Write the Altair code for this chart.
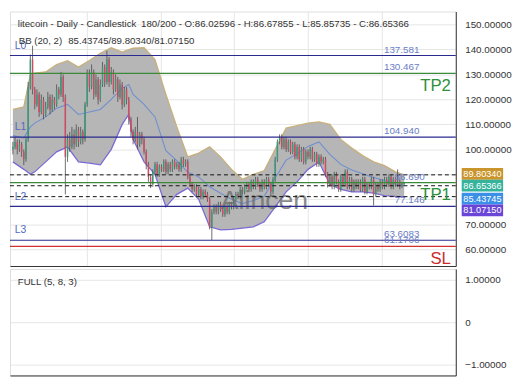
import altair as alt
import pandas as pd

# ---------------- data ----------------
opens = [100, 101, 103, 100, 102,
         99,
         96, 104, 125, 136,
         124, 118, 122, 115, 120, 114, 117,
         121, 116, 120, 118, 124, 122,
         129, 121, 97,
         104, 101, 106, 102, 108, 103, 107,
         104, 118,
         130, 125, 131, 122, 128, 120, 126, 133, 127,
         136, 127, 131, 124, 128, 121,
         126, 118, 124,
         120, 112, 107,
         104, 107, 102, 106,
         104, 99, 94, 89,
         86, 91, 94, 90, 93, 92, 95, 91, 94, 92, 95, 93, 94, 92, 96, 94,
         95, 89,
         86, 84, 85, 82, 84, 81, 83, 82,
         80, 69,
         75, 77, 75, 78, 76, 74, 77, 75, 78,
         77, 80, 82, 81, 84, 83,
         85, 86, 84, 87, 85, 88, 86, 84, 87, 85, 88, 86,
         83, 88, 96,
         103, 105, 101, 104, 100, 103, 99,
         102, 97, 101, 96, 100, 95, 99, 97, 100, 96, 98, 94, 97, 95,
         96, 90,
         86, 89, 85, 90, 87, 84, 89, 86, 91, 85, 88, 84, 87,
         85, 87, 84, 88, 83, 86,
         85, 88, 82, 86, 84, 87, 85, 88, 86, 89, 85, 88, 86, 87, 85, 86.02596]
closes = [101, 103, 100, 102, 99,
          96,
          104, 125, 136, 124,
          118, 122, 115, 120, 114, 117, 121,
          116, 120, 118, 124, 122, 129,
          121, 97, 104,
          101, 106, 102, 108, 103, 107, 104,
          118, 130,
          125, 131, 122, 128, 120, 126, 133, 127, 136,
          127, 131, 124, 128, 121, 126,
          118, 124, 120,
          112, 107, 104,
          107, 102, 106, 104,
          99, 94, 89, 86,
          91, 94, 90, 93, 92, 95, 91, 94, 92, 95, 93, 94, 92, 96, 94, 95,
          89, 86,
          84, 85, 82, 84, 81, 83, 82, 80,
          69, 75,
          77, 75, 78, 76, 74, 77, 75, 78, 77,
          80, 82, 81, 84, 83, 85,
          86, 84, 87, 85, 88, 86, 84, 87, 85, 88, 86, 83,
          88, 96, 103,
          105, 101, 104, 100, 103, 99, 102,
          97, 101, 96, 100, 95, 99, 97, 100, 96, 98, 94, 97, 95, 96,
          90, 86,
          89, 85, 90, 87, 84, 89, 86, 91, 85, 88, 84, 87, 85,
          87, 84, 88, 83, 86, 85,
          88, 82, 86, 84, 87, 85, 88, 86, 89, 85, 88, 86, 87, 85, 86.02596, 86.65366]
highs = [103, 105, 104, 104, 103,
         100,
         105, 127, 138, 141.5,
         125, 124, 123, 122, 121, 119, 123,
         122, 122, 121, 126, 125, 131,
         130, 122, 106,
         107, 109, 108, 110, 109, 109, 108,
         119, 132,
         132, 134, 132, 130, 129, 128, 135, 134, 139.5,
         137, 133, 132, 130, 129, 128,
         127, 125, 125,
         121, 113, 108,
         109, 113, 107, 107,
         105, 100, 95, 90,
         92, 95, 95, 94, 94, 96, 96, 95, 95, 96, 96, 95, 95, 97, 97, 96,
         96, 90,
         87, 86, 86, 85, 85, 84, 84, 83,
         81, 76,
         78, 78, 79, 79, 77, 78, 78, 79, 79,
         81, 83, 83, 85, 85, 86,
         87, 87, 88, 88, 89, 89, 87, 88, 88, 89, 89, 87,
         89, 97, 104,
         106, 106, 105, 105, 104, 104, 103,
         103, 102, 102, 101, 101, 100, 100, 101, 101, 99, 99, 98, 98, 97,
         97, 91,
         90, 90, 91, 91, 88, 90, 90, 92, 92, 89, 89, 88, 88,
         88, 88, 89, 89, 87, 87,
         89, 89, 87, 87, 88, 88, 89, 89, 90, 90, 89, 89, 92, 88, 86.8, 86.67855]
lows = [98, 100, 98, 99, 97,
        93.7,
        95, 103, 124, 122,
        116, 117, 113, 114, 112, 113, 116,
        114, 115, 116, 117, 120, 121,
        119, 82, 95,
        99, 100, 100, 101, 101, 102, 102,
        103, 117,
        123, 124, 120, 121, 118, 119, 125, 125, 126,
        125, 126, 122, 123, 119, 120,
        116, 117, 118,
        110, 105, 102,
        103, 100, 101, 102,
        98, 92, 87, 84.5,
        85, 90, 89, 89, 91, 91, 90, 90, 91, 91, 92, 92, 91, 91, 93, 93,
        88, 85,
        83, 83, 81, 81, 80, 80, 81, 79,
        68, 63.7,
        74, 74, 74, 75, 73, 73, 74, 74, 76,
        76, 79, 80, 80, 82, 82,
        84, 83, 83, 84, 84, 85, 83, 83, 84, 84, 85, 81,
        82, 87, 95,
        102, 100, 100, 99, 99, 98, 98,
        96, 96, 95, 95, 94, 94, 96, 96, 95, 95, 93, 93, 94, 94,
        89, 84.7,
        85, 84, 84, 86, 83, 83, 85, 85, 84, 84, 83, 83, 84,
        84, 83, 83, 82, 82, 84,
        84, 77.5, 81, 83, 83, 84, 84, 85, 85, 84, 84, 85, 85, 84, 84.5, 85.85735]

assert len(opens) == len(closes) == len(highs) == len(lows) == 180, (
    len(opens), len(closes), len(highs), len(lows))

# Bollinger bands (20, 2) read at a subset of candles
bb_idx = [0, 5, 8, 10, 15, 20, 25, 30, 35, 40, 45, 50, 53, 55, 60, 65, 70, 75, 80,
          85, 90, 95, 100, 105, 110, 115, 120, 125, 130, 135, 140, 145, 150, 155,
          160, 165, 170, 175, 179]
bb_upper = [116, 117, 130, 130.5, 131, 134, 135.5, 133, 135.6, 138.5, 140.7, 139, 140,
            140.5, 140.7, 136, 122, 109, 97, 98.5, 101, 97, 92, 88, 90, 91.5, 100,
            108.5, 109.5, 110.5, 111, 110, 104, 100.5, 97.5, 95, 93.5, 91, 89.8034]
bb_mid = [105.5, 104.5, 109, 110.5, 113, 116.5, 118, 114, 115, 116, 120, 124.5, 126,
          122, 118, 113, 99.5, 95.5, 90.8, 89, 85, 82.4, 80, 78.3, 79.5, 81.3, 88.5,
          95.7, 98.2, 101.2, 103, 98, 94, 91.7, 90.2, 88.7, 87.5, 86.1, 85.43745]
bb_lower = [95, 92, 90, 91, 95, 99, 101, 95, 94.5, 93.8, 100, 110, 114, 104, 95, 90,
            77, 82, 84.5, 80, 69, 67.8, 68, 68.5, 69, 71, 77, 83, 87, 92, 95, 86, 84,
            83, 83, 82.5, 81.5, 81.2, 81.0715]
assert len(bb_idx) == len(bb_upper) == len(bb_mid) == len(bb_lower)

# Levels
navy_levels = [137.581, 104.940, 77.146, 63.6083]
navy_names = ["L0", "L1", "L2", "L3"]
tp_levels = [130.467]
sl_levels = [61.1706]
close_level = [86.65366]
bb_last = [89.80340, 85.43745, 81.07150]

value_label_prices = [137.581, 130.467, 104.940, 63.6083, 61.1706]
value_label_texts = ["137.581", "130.467", "104.940", "63.6083", "61.1706"]
value_label2_prices = [86.65366, 77.146]
value_label2_texts = ["86.690", "77.146"]

box_values = [89.80340, 86.65366, 85.43745, 81.07150]
box_texts = ["89.80340", "86.65366", "85.43745", "81.07150"]

y_ticks = [60, 70, 80, 90, 100, 110, 120, 130, 140, 150]
osc_ticks = [1, 0, -1]
grid_x = [33.8, 67.5, 101.3, 135, 168.8]

title1 = "litecoin - Daily - Candlestick"
title2 = "180/200 - O:86.02596 - H:86.67855 - L:85.85735 - C:86.65366"
bb_title = "BB (20, 2)"
bb_vals = "85.43745/89.80340/81.07150"
osc_title = "FULL (5, 8, 3)"

# ---------------- layout / style ----------------
W = 452
H_MAIN = 258
H_LOW = 108
REF_W = 459.0


def px(x):
    return x * W / REF_W


FONT = "Liberation Sans"
GREEN_C = "#3a9a7a"
RED_C = "#d04a62"
NAVY = "#2a2a8e"
LINE_GREEN = "#3a8a3a"
LINE_RED = "#d03030"
LABEL_BLUE = "#6a7ec6"

candles = pd.DataFrame({
    "i": list(range(len(opens))),
    "o": opens, "h": highs, "l": lows, "c": closes,
})
candles["dir"] = ["up" if c >= o else "down" for o, c in zip(opens, closes)]

bb = pd.DataFrame({"i": bb_idx, "upper": bb_upper, "mid": bb_mid, "lower": bb_lower})

xscale = alt.Scale(domain=[-1.33, 202.6], nice=False, zero=False)
yscale = alt.Scale(domain=[53.3, 155.2], nice=False, zero=False)
xaxis = alt.Axis(title=None, labels=False, ticks=False, domain=True,
                 domainColor="#333333", domainWidth=1, grid=True,
                 gridColor="#e6e6e6", values=grid_x)
yaxis = alt.Axis(title=None, orient="right", values=y_ticks, ticks=False,
                 labelPadding=9, domain=True, domainColor="#333333", domainWidth=1,
                 grid=True, gridColor="#e6e6e6", labelFont=FONT, labelFontSize=10,
                 labelColor="#333333",
                 labelExpr="(datum.value == 80 || datum.value == 90) ? '' : format(datum.value, '.5f')")


def X(f):
    return alt.X(f, type="quantitative", scale=xscale, axis=xaxis)


def Y(f):
    return alt.Y(f, type="quantitative", scale=yscale, axis=yaxis)


def one(text):
    return pd.DataFrame({"t": [text]})


layers = []

# Bollinger area and lines
layers.append(alt.Chart(bb).mark_area(color="#b6b6b6", opacity=1).encode(
    x=X("i"), y=Y("upper"), y2="lower"))
layers.append(alt.Chart(bb).mark_line(color="#c8b07a", strokeWidth=1.3).encode(
    x=X("i"), y=Y("upper")))
layers.append(alt.Chart(bb).mark_line(color="#7a6ad4", strokeWidth=1.3).encode(
    x=X("i"), y=Y("lower")))
layers.append(alt.Chart(bb).mark_line(color="#6f8fd0", strokeWidth=1.1).encode(
    x=X("i"), y=Y("mid")))

# Candles
layers.append(alt.Chart(candles).mark_rule(color="#4a4a4a", strokeWidth=0.8).encode(
    x=X("i"), y=Y("l"), y2="h"))
layers.append(alt.Chart(candles).mark_rule(strokeWidth=1.5).encode(
    x=X("i"), y=Y("o"), y2="c",
    color=alt.Color("dir:N", scale=alt.Scale(domain=["up", "down"], range=[GREEN_C, RED_C]),
                    legend=None)))

# Watermark
layers.append(alt.Chart(one("Alincen")).mark_text(
    align="center", baseline="middle", fontSize=27, font=FONT, color="#6e6e6e",
    opacity=0.8).encode(x=alt.value(px(262)), y=alt.value(192), text="t:N"))

# Level lines
layers.append(alt.Chart(pd.DataFrame({"v": navy_levels})).mark_rule(
    color=NAVY, strokeWidth=1.2).encode(y=Y("v")))
layers.append(alt.Chart(pd.DataFrame({"v": tp_levels})).mark_rule(
    color=LINE_GREEN, strokeWidth=1.2).encode(y=Y("v")))
layers.append(alt.Chart(pd.DataFrame({"v": close_level})).mark_rule(
    color=LINE_GREEN, strokeWidth=1.2).encode(y=Y("v")))
layers.append(alt.Chart(pd.DataFrame({"v": sl_levels})).mark_rule(
    color=LINE_RED, strokeWidth=1.2).encode(y=Y("v")))
layers.append(alt.Chart(pd.DataFrame({"v": bb_last})).mark_rule(
    color="#111111", strokeWidth=1, strokeDash=[4, 3]).encode(y=Y("v")))

# Level names L0..L3
layers.append(alt.Chart(pd.DataFrame({"v": navy_names and navy_levels, "t": navy_names})).mark_text(
    align="left", baseline="middle", dy=-10, fontSize=10.5, font=FONT, color="#5468c0").encode(
    x=alt.value(px(5)), y=Y("v"), text="t:N"))

# Level value labels
layers.append(alt.Chart(pd.DataFrame({"v": value_label_prices, "t": value_label_texts})).mark_text(
    align="left", baseline="middle", dy=-6, fontSize=10, font=FONT, color=LABEL_BLUE).encode(
    x=alt.value(px(385)), y=Y("v"), text="t:N"))
layers.append(alt.Chart(pd.DataFrame({"v": value_label2_prices, "t": value_label2_texts})).mark_text(
    align="left", baseline="middle", dy=-6, fontSize=10, font=FONT, color=LABEL_BLUE).encode(
    x=alt.value(px(396)), y=Y("v"), text="t:N"))

# TP / SL tags
layers.append(alt.Chart(one("TP2")).mark_text(
    align="right", baseline="middle", fontSize=17, font=FONT, color="#2f8f3a").encode(
    x=alt.value(px(454)), y=alt.value(76), text="t:N"))
layers.append(alt.Chart(one("TP1")).mark_text(
    align="right", baseline="middle", fontSize=17, font=FONT, color="#2f8f3a").encode(
    x=alt.value(px(454)), y=alt.value(186), text="t:N"))
layers.append(alt.Chart(one("SL")).mark_text(
    align="right", baseline="middle", fontSize=17, font=FONT, color="#cc2a2a").encode(
    x=alt.value(px(454)), y=alt.value(251), text="t:N"))

# Titles
for txt, xx, yy in [(title1, 8, 13), (title2, 135, 13), (bb_title, 9, 30), (bb_vals, 60, 30)]:
    layers.append(alt.Chart(one(txt)).mark_text(
        align="left", baseline="middle", fontSize=9.8, font=FONT, color="#333333").encode(
        x=alt.value(px(xx)), y=alt.value(yy), text="t:N"))

# Right-side price boxes
box_colors = ["#c9952c", "#35b39c", "#3a8fe6", "#6a45d8"]
box_offsets = [-1, 3, 13, 14]
for v, t, col, off in zip(box_values, box_texts, box_colors, box_offsets):
    d = pd.DataFrame({"v": [v], "t": [t]})
    layers.append(alt.Chart(d).mark_rule(color=col, strokeWidth=12, yOffset=off).encode(
        y=Y("v"), x=alt.value(W + 6), x2=alt.value(W + 48)))
    layers.append(alt.Chart(d).mark_text(
        align="center", baseline="middle", fontSize=9.3, font=FONT, color="white",
        yOffset=off).encode(x=alt.value(W + 27), y=Y("v"), text="t:N"))

main = alt.layer(*layers).properties(width=W, height=H_MAIN)

# ---------------- lower oscillator panel ----------------
osc_df = pd.DataFrame({"i": [0, 180], "v": [1, -1]})
low_x = alt.X("i", type="quantitative", scale=xscale,
              axis=alt.Axis(title=None, labels=False, ticks=False, grid=False,
                            domain=True, domainColor="#333333", domainWidth=1))
low_y = alt.Y("v", type="quantitative", scale=alt.Scale(domain=[-1.25, 1.25], nice=False, zero=False),
              axis=alt.Axis(title=None, orient="right", values=osc_ticks, ticks=False,
                            labelPadding=9, domain=True, domainColor="#333333", domainWidth=1,
                            grid=True, gridColor="#e6e6e6", labelFont=FONT, labelFontSize=10,
                            labelColor="#333333",
                            labelExpr="datum.value == 0 ? '0' : format(datum.value, '.5f')"))
low_pts = alt.Chart(osc_df).mark_point(opacity=0).encode(x=low_x, y=low_y)
low_title = alt.Chart(one(osc_title)).mark_text(
    align="left", baseline="middle", fontSize=9.8, font=FONT, color="#333333").encode(
    x=alt.value(px(8)), y=alt.value(13), text="t:N")
lower = alt.layer(low_pts, low_title).properties(width=W, height=H_LOW)

chart = alt.vconcat(main, lower, spacing=0).properties(
    padding={"left": 0, "top": 0, "right": 0, "bottom": 0}
).configure_view(strokeWidth=0).configure(font=FONT)

chart.save("out.html", embed_options={"renderer": "svg", "actions": False})
